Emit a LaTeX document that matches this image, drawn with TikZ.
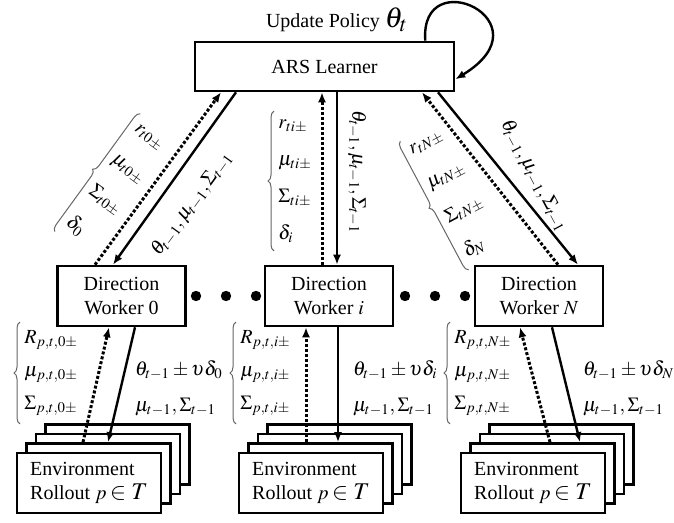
\documentclass[tikz,border=0pt]{standalone}
\usepackage{mathptmx}
\usepackage[no-math]{fontspec}
\setmainfont{Liberation Serif}
\usepackage{tikz}
\usetikzlibrary{arrows.meta, positioning, decorations.pathreplacing}

\tikzstyle{learnerbox} = [rectangle, draw, line width=1.3pt, fill=white,
minimum width=129.5pt, minimum height=24.5pt]
\tikzstyle{workerbox} = [rectangle, draw, line width=1.3pt, fill=white,
minimum width=64pt, minimum height=30pt, align=center, inner sep=1pt]
\tikzstyle{envbox} = [rectangle, draw, line width=1.3pt, fill=white,
minimum width=72pt, minimum height=30pt, align=left, inner sep=1pt]
\tikzstyle{arrow} = [-{Latex[length=5pt,width=4pt]}, line width=1.2pt]
\tikzstyle{dotarrow} = [-{Latex[length=5pt,width=4pt]}, line width=1.5pt,
dash pattern=on 1.5pt off 1pt]
\tikzstyle{bracket} = [decorate, decoration={brace, amplitude=3pt},
draw=black!60, line width=0.5pt]
\tikzstyle{stack} = [align=left, inner xsep=2pt, inner ysep=4pt]

\begin{document}
\begin{tikzpicture}[x=0.5pt, y=0.5pt]
    \useasboundingbox (0,0) rectangle (674,-523);

    % learner and workers
    \node (ars) [learnerbox] at (324.5,-66.5) {ARS Learner};
    \node (upd) at (337,-20) {Update Policy {\Large$\theta_t$}};
    \node (w0) [workerbox] at (121.5,-296) {Direction\\Worker 0};
    \node (wi) [workerbox] at (329,-296) {Direction\\Worker $i$};
    \node (wN) [workerbox] at (539,-296) {Direction\\Worker $N$};
    \foreach \x in {196,226,256,405,435,465}
        \fill (\x,-296) circle (2.6pt);

    % rollout stacks
    \foreach \w/\cx in {0/89, i/311, N/533} {
        \foreach \k in {3,2,1}
            \node (env\w l\k) [envbox] at (\cx+9.5*\k, -483+9.5*\k) {};
        \node (env\w) [envbox] at (\cx,-483) {Environment\\Rollout $p$\,{\large$\in T$}};
    }

    % self loop
    \coordinate (loopout) at ([shift={(-30,0)}]ars.north east);
    \coordinate (loopin) at ([shift={(0,13)}]ars.south east);
    \draw[arrow] (loopout) .. controls +(-6,80) and +(95,58) .. (loopin);

    % learner <-> workers
    \draw[dotarrow] ([shift={(-26.5,0)}]w0.north) -- ([shift={(-103.5,0)}]ars.south);
    \draw[arrow] ([shift={(-88.5,0)}]ars.south) -- ([shift={(-8.5,0)}]w0.north);
    \draw[dotarrow] ([shift={(-7,0)}]wi.north) -- ([shift={(-2.5,0)}]ars.south);
    \draw[arrow] ([shift={(12.5,0)}]ars.south) -- ([shift={(8,0)}]wi.north);
    \draw[dotarrow] ([shift={(19,0)}]wN.north) -- ([shift={(97.5,0)}]ars.south);
    \draw[arrow] ([shift={(113.5,0)}]ars.south) -- ([shift={(39,0)}]wN.north);

    \node (lab0) [rotate=54] at (192,-204) {$\theta_{t-1},\mu_{t-1},\Sigma_{t-1}$};
    \node (labi) [rotate=-90] at (357,-172) {$\theta_{t-1},\mu_{t-1},\Sigma_{t-1}$};
    \node (labN) [rotate=-62] at (534,-176) {$\theta_{t-1},\mu_{t-1},\Sigma_{t-1}$};

    \node (sig0) [stack, rotate=-36] at (116,-186)
    {$r_{t0\pm}$\\[7.5pt]$\mu_{t0\pm}$\\[7.5pt]$\Sigma_{t0\pm}$\\[7.5pt]$\delta_0$};
    \node (sigi) [stack, anchor=west] at (274,-181)
    {$r_{ti\pm}$\\[6.5pt]$\mu_{ti\pm}$\\[6.5pt]$\Sigma_{ti\pm}$\\[6.5pt]$\delta_i$};
    \node (sigN) [stack, rotate=28] at (456,-194)
    {$r_{tN\pm}$\\[7.5pt]$\mu_{tN\pm}$\\[7.5pt]$\Sigma_{tN\pm}$\\[7.5pt]$\delta_N$};
    \draw[bracket] (sig0.south west) -- (sig0.north west);
    \draw[bracket] (sigi.south west) -- (sigi.north west);
    \draw[bracket] (sigN.south west) -- (sigN.north west);

    % workers <-> rollouts
    \draw[dotarrow] ([shift={(-15.5,0)}]env0l1.north) -- ([shift={(-12.5,0)}]w0.south);
    \draw[arrow] ([shift={(13.5,0)}]w0.south) -- ([shift={(9.5,0)}]env0l1.north);
    \draw[dotarrow] ([shift={(-14.5,0)}]envil1.north) -- ([shift={(-23,0)}]wi.south);
    \draw[arrow] ([shift={(9,0)}]wi.south) -- ([shift={(17.5,0)}]envil1.north);
    \draw[dotarrow] ([shift={(7.5,0)}]envNl1.north) -- ([shift={(-19,0)}]wN.south);
    \draw[arrow] ([shift={(13,0)}]wN.south) -- ([shift={(37.5,0)}]envNl1.north);

    \node (ret0) [stack, anchor=west] at (20,-373)
    {$R_{p,t,0\pm}$\\[4.5pt]$\mu_{p,t,0\pm}$\\[4.5pt]$\Sigma_{p,t,0\pm}$};
    \node (reti) [stack, anchor=west] at (236,-373)
    {$R_{p,t,i\pm}$\\[4.5pt]$\mu_{p,t,i\pm}$\\[4.5pt]$\Sigma_{p,t,i\pm}$};
    \node (retN) [stack, anchor=west] at (450,-373)
    {$R_{p,t,N\pm}$\\[4.5pt]$\mu_{p,t,N\pm}$\\[4.5pt]$\Sigma_{p,t,N\pm}$};
    \draw[bracket] (ret0.south west) -- (ret0.north west);
    \draw[bracket] (reti.south west) -- (reti.north west);
    \draw[bracket] (retN.south west) -- (retN.north west);

    \node (par0) [anchor=west, align=left] at (128,-388)
    {$\theta_{t-1}\pm\upsilon\delta_0$\\[6pt]$\mu_{t-1},\Sigma_{t-1}$};
    \node (pari) [anchor=west, align=left] at (346,-388)
    {$\theta_{t-1}\pm\upsilon\delta_i$\\[6pt]$\mu_{t-1},\Sigma_{t-1}$};
    \node (parN) [anchor=west, align=left] at (576,-388)
    {$\theta_{t-1}\pm\upsilon\delta_N$\\[6pt]$\mu_{t-1},\Sigma_{t-1}$};
\end{tikzpicture}
\end{document}
